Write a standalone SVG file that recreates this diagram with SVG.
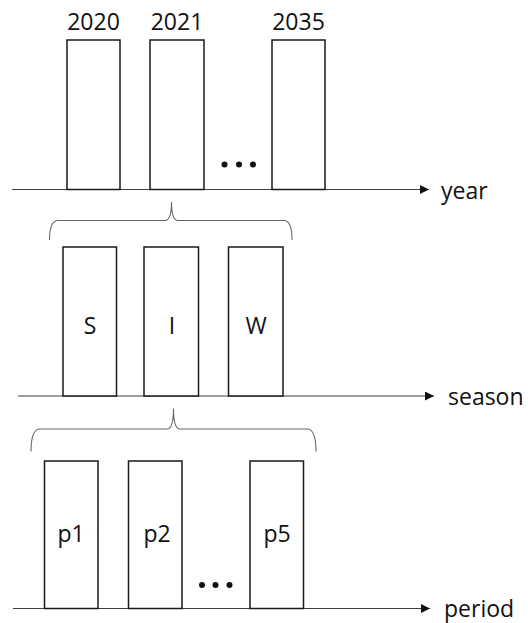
<svg xmlns="http://www.w3.org/2000/svg" width="528" height="623" viewBox="0 0 528 623">
  <defs>
    <style>
      .box { fill: #ffffff; stroke: #1a1a1a; stroke-width: 1.5; }
      .axis { fill: none; stroke: #404040; stroke-width: 1.2; }
      .brace { fill: none; stroke: #666666; stroke-width: 1.1; }
      .lbl { font-family: "Open Sans", "Liberation Sans", sans-serif; font-size: 23px; fill: #111111; }
      .mid { text-anchor: middle; }
      .dot { fill: #111111; }
    </style>
    <marker id="arrow" markerWidth="10" markerHeight="10" refX="9" refY="4.5" orient="auto" markerUnits="userSpaceOnUse">
      <path d="M0,0 L9,4.5 L0,9 Z" fill="#111111"/>
    </marker>
  </defs>

  <rect width="528" height="623" fill="#ffffff"/>

  <!-- axes and braces -->
  <g id="connectors">
    <line class="axis" x1="12" y1="189.5" x2="429" y2="189.5" marker-end="url(#arrow)"/>
    <line class="axis" x1="18" y1="396" x2="434" y2="396" marker-end="url(#arrow)"/>
    <line class="axis" x1="13" y1="608.5" x2="430" y2="608.5" marker-end="url(#arrow)"/>

    <!-- year 2021 splits into seasons -->
    <path class="brace" d="M49.5,240 Q49.5,220.5 58,220.5 L165,220.5 Q171.5,220.5 171.5,202 Q171.5,220.5 178,220.5 L284,220.5 Q292,220.5 292,240"/>
    <!-- season I splits into periods -->
    <path class="brace" d="M31,451.5 Q31,429 40,429 L167,429 Q173.5,429 173.5,408.5 Q173.5,429 180,429 L307,429 Q316,429 316,451.5"/>
  </g>

  <!-- year row -->
  <g id="year-2020">
    <rect class="box" x="67" y="40" width="53" height="149.5"/>
    <text class="lbl mid" x="93.5" y="30">2020</text>
  </g>
  <g id="year-2021">
    <rect class="box" x="150" y="40" width="54" height="149.5"/>
    <text class="lbl mid" x="177" y="30">2021</text>
  </g>
  <g id="year-ellipsis">
    <circle class="dot" cx="224.5" cy="164.5" r="3"/>
    <circle class="dot" cx="239" cy="164.5" r="3"/>
    <circle class="dot" cx="253" cy="164.5" r="3"/>
  </g>
  <g id="year-2035">
    <rect class="box" x="272" y="40" width="53" height="149.5"/>
    <text class="lbl mid" x="298.5" y="30">2035</text>
  </g>
  <g id="year-label">
    <text class="lbl" x="441" y="199">year</text>
  </g>

  <!-- season row -->
  <g id="season-S">
    <rect class="box" x="63" y="247" width="53.5" height="149"/>
    <text class="lbl mid" x="90" y="334">S</text>
  </g>
  <g id="season-I">
    <rect class="box" x="144" y="247" width="54.5" height="149"/>
    <text class="lbl mid" x="172" y="334">I</text>
  </g>
  <g id="season-W">
    <rect class="box" x="228.5" y="247" width="54.5" height="149"/>
    <text class="lbl mid" x="256" y="334">W</text>
  </g>
  <g id="season-label">
    <text class="lbl" x="448" y="405">season</text>
  </g>

  <!-- period row -->
  <g id="period-p1">
    <rect class="box" x="44.5" y="461" width="53.5" height="147.5"/>
    <text class="lbl mid" x="71" y="542">p1</text>
  </g>
  <g id="period-p2">
    <rect class="box" x="128.5" y="461" width="53.5" height="147.5"/>
    <text class="lbl mid" x="157" y="542">p2</text>
  </g>
  <g id="period-ellipsis">
    <circle class="dot" cx="202" cy="585" r="3"/>
    <circle class="dot" cx="215.5" cy="585" r="3"/>
    <circle class="dot" cx="229.5" cy="585" r="3"/>
  </g>
  <g id="period-p5">
    <rect class="box" x="250" y="461" width="53.5" height="147.5"/>
    <text class="lbl mid" x="277" y="542">p5</text>
  </g>
  <g id="period-label">
    <text class="lbl" x="444" y="617">period</text>
  </g>
</svg>
